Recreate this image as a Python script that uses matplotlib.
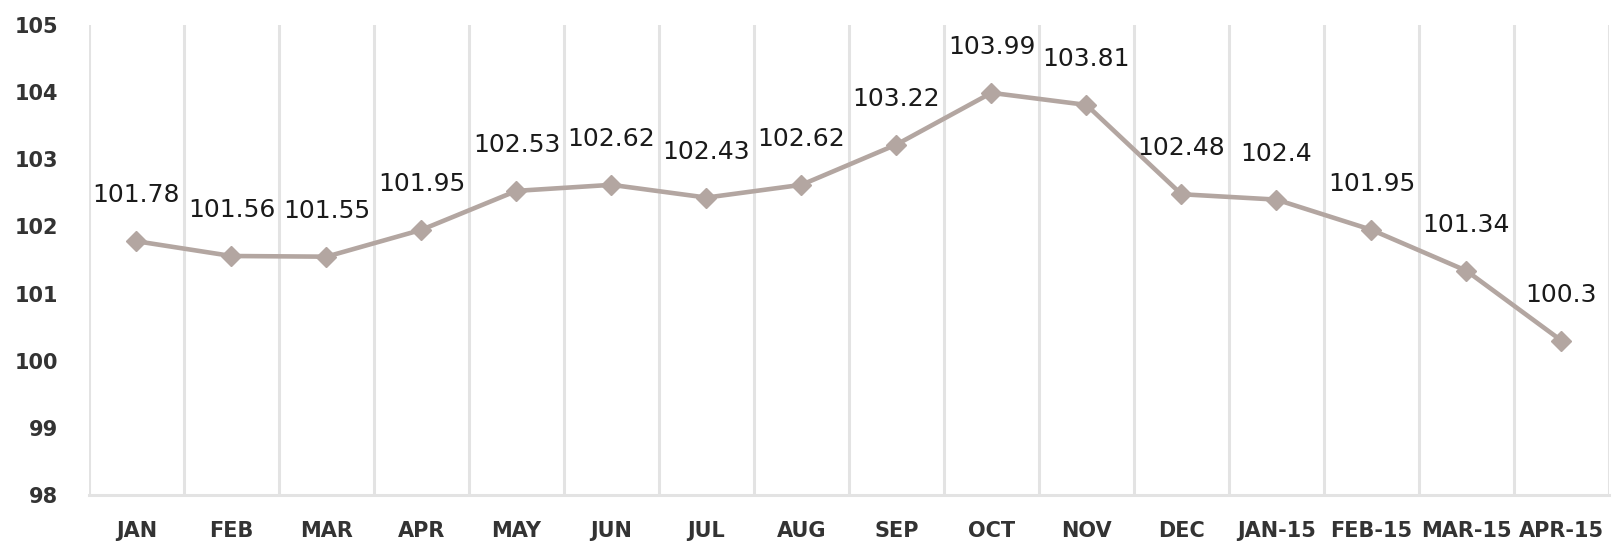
import numpy as np
import matplotlib.pyplot as plt

# Data
months = ['JAN', 'FEB', 'MAR', 'APR', 'MAY', 'JUN', 'JUL', 'AUG', 'SEP', 'OCT',
          'NOV', 'DEC', 'JAN-15', 'FEB-15', 'MAR-15', 'APR-15']
index_values = [101.78, 101.56, 101.55, 101.95, 102.53, 102.62, 102.43, 102.62,
                103.22, 103.99, 103.81, 102.48, 102.4, 101.95, 101.34, 100.3]
y_ticks = [98, 99, 100, 101, 102, 103, 104, 105]

line_color = '#b3a6a1'
grid_color = '#e3e3e3'

fig = plt.figure(figsize=(16.18, 5.44), dpi=100)
ax = fig.add_axes([0.055, 0.09, 0.9394, 0.864])

x = np.arange(len(months))
ax.plot(x, index_values, color=line_color, linewidth=3.3, marker='D',
        markersize=10.5, markerfacecolor=line_color, markeredgecolor=line_color,
        zorder=3)

for xi, v in zip(x, index_values):
    ax.annotate(f'{v:g}', (xi, v), xytext=(0, 33), textcoords='offset points',
                ha='center', va='center', fontsize=18, color='#1a1a1a',
                family='DejaVu Sans', zorder=4)

ax.set_xlim(-0.5, len(months) - 0.5)
ax.set_ylim(y_ticks[0], y_ticks[-1])

# vertical grid lines at category boundaries
for b in np.arange(-0.5, len(months) + 0.5, 1):
    ax.axvline(b, color=grid_color, linewidth=2.2, zorder=1)

for s in ['top', 'right', 'left']:
    ax.spines[s].set_visible(False)
ax.spines['bottom'].set_color(grid_color)
ax.spines['bottom'].set_linewidth(2.2)

ax.set_xticks(x)
ax.set_xticklabels(months, fontsize=15, fontweight='bold', color='#333333',
                   family='DejaVu Sans')
ax.set_yticks(y_ticks)
ax.set_yticklabels([str(t) for t in y_ticks], fontsize=15, fontweight='bold',
                   color='#333333', family='DejaVu Sans')
ax.tick_params(axis='x', length=0, pad=19)
ax.tick_params(axis='y', length=0, pad=22)

fig.savefig('out.png', dpi=100)
